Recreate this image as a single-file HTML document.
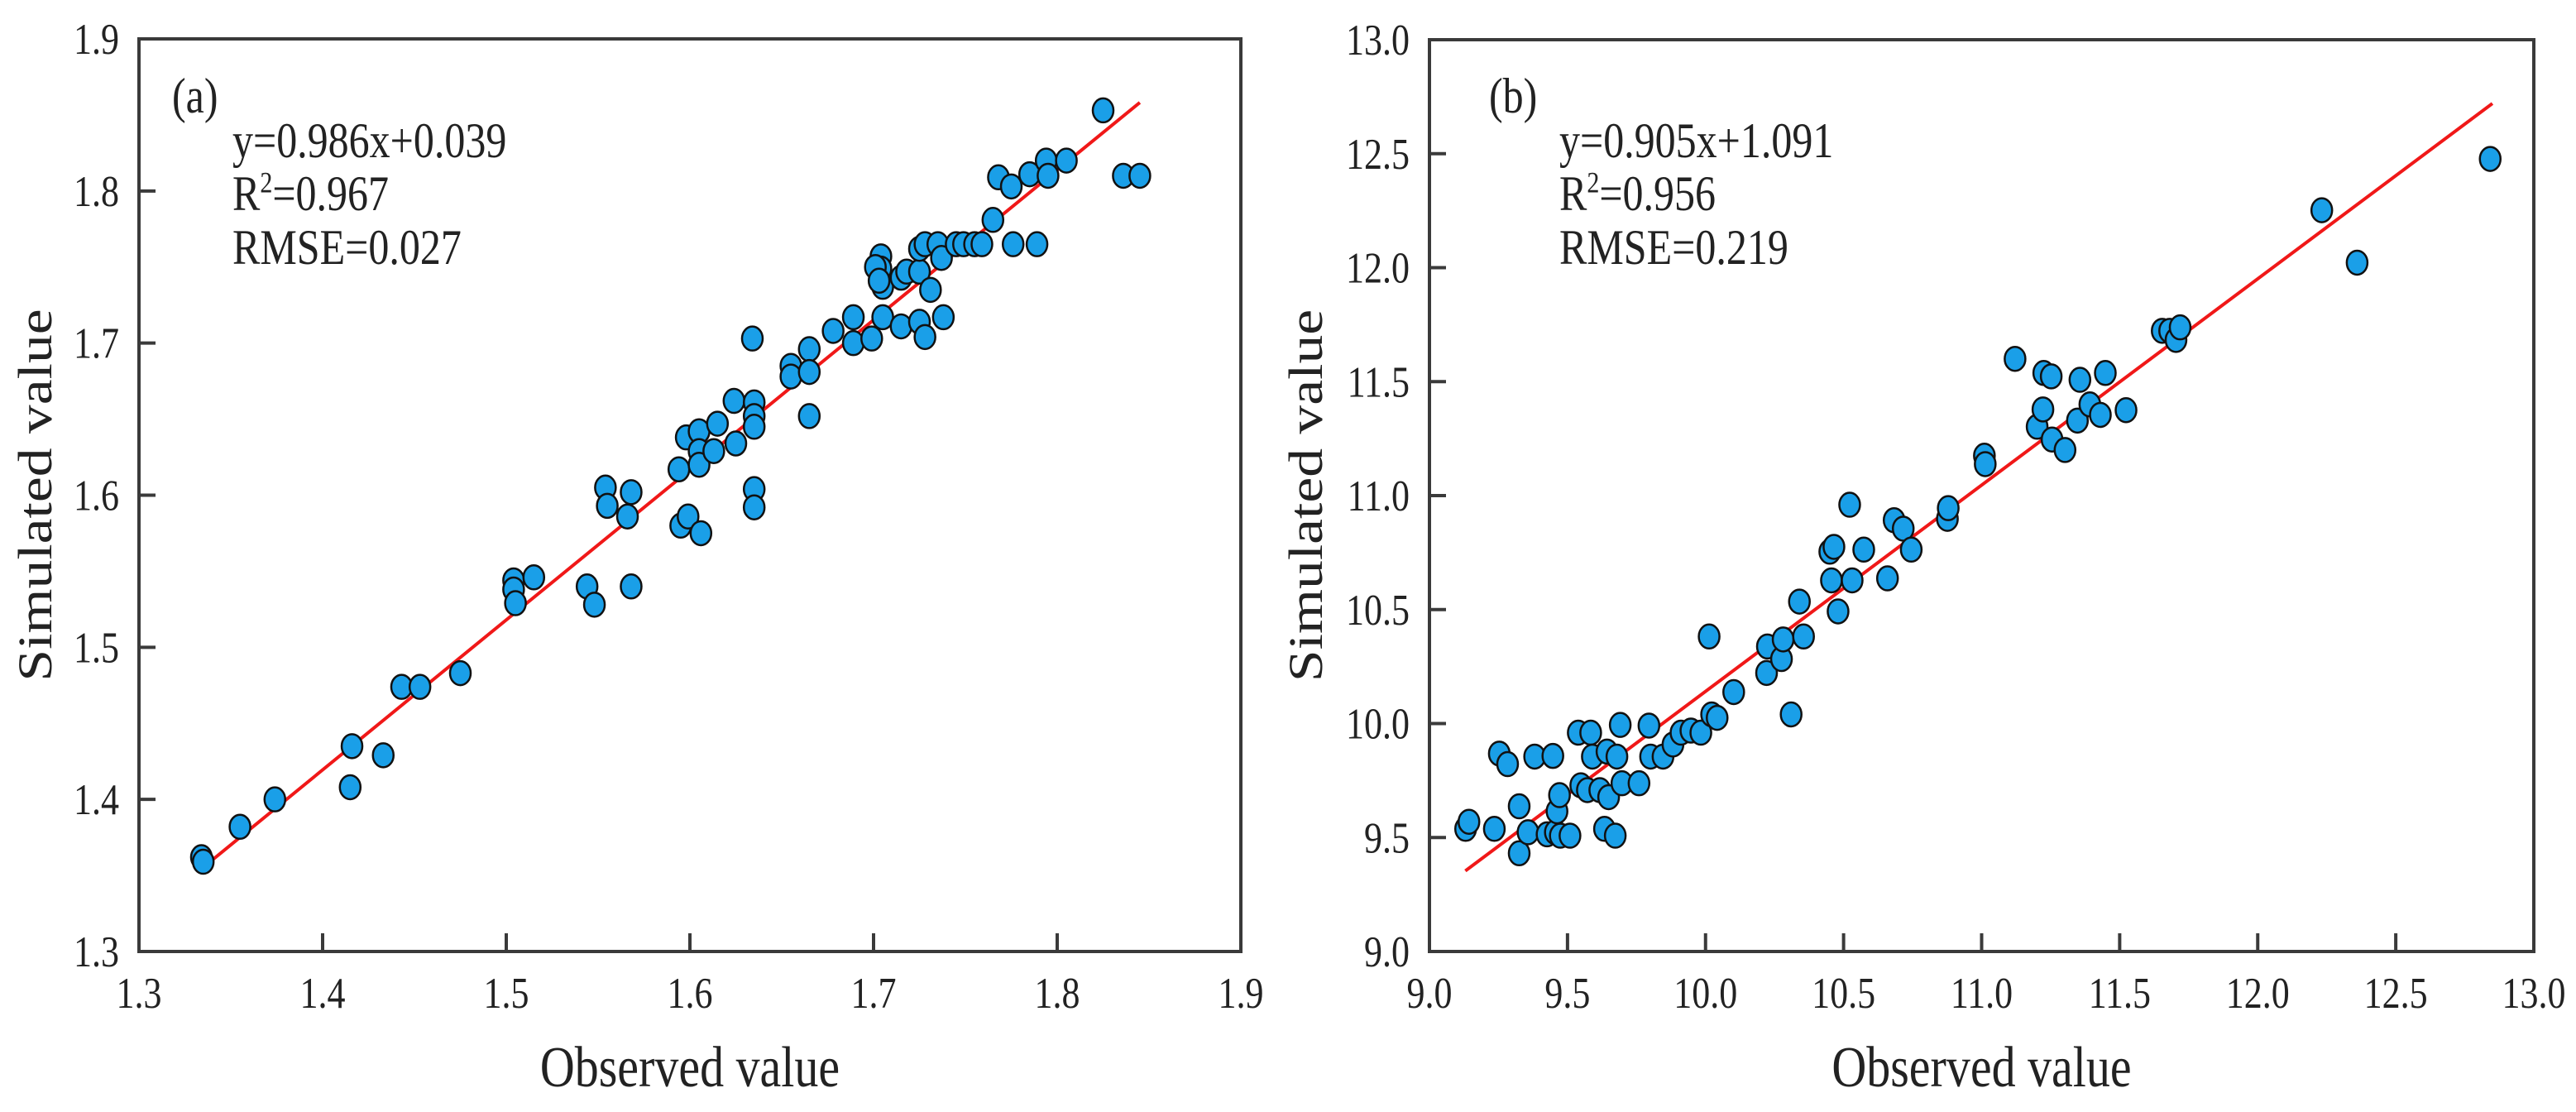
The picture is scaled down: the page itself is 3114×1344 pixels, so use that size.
<!DOCTYPE html>
<html><head><meta charset="utf-8"><style>
html,body{margin:0;padding:0;background:#fff;}
svg{display:block;font-family:"Liberation Serif",serif;}
</style></head><body>
<svg id="chart" width="3114" height="1344" viewBox="0 0 3114 1344" xmlns="http://www.w3.org/2000/svg">
<rect width="3114" height="1344" fill="#fff"/>
</svg>
<script>
// Panel (a) data
const aObserved = [1.334,1.335,1.355,1.374,1.415,1.416,1.433,1.443,1.453,1.475,1.504,1.504,1.505,1.515,1.544,1.548,1.554,1.555,1.566,1.568,1.568,1.594,1.595,1.598,1.599,1.605,1.605,1.605,1.606,1.613,1.615,1.624,1.625,1.634,1.635,1.635,1.635,1.635,1.635,1.655,1.655,1.665,1.665,1.665,1.678,1.689,1.689,1.699,1.704,1.704,1.705,1.705,1.715,1.715,1.718,1.725,1.725,1.725,1.728,1.728,1.731,1.735,1.737,1.738,1.745,1.749,1.755,1.759,1.765,1.768,1.775,1.776,1.785,1.789,1.794,1.795,1.805,1.825,1.836,1.845,1.701,1.703];
const aSimulated = [1.362,1.359,1.382,1.400,1.408,1.435,1.429,1.474,1.474,1.483,1.544,1.538,1.529,1.546,1.540,1.528,1.605,1.593,1.586,1.602,1.540,1.617,1.580,1.638,1.586,1.642,1.629,1.620,1.575,1.629,1.647,1.662,1.634,1.703,1.661,1.652,1.645,1.604,1.592,1.685,1.678,1.696,1.681,1.652,1.708,1.717,1.700,1.703,1.757,1.749,1.737,1.717,1.711,1.743,1.747,1.747,1.762,1.714,1.765,1.704,1.735,1.765,1.756,1.717,1.765,1.765,1.765,1.765,1.781,1.809,1.803,1.765,1.811,1.765,1.820,1.810,1.820,1.853,1.810,1.810,1.750,1.741];
const aTicks = ["1.3","1.4","1.5","1.6","1.7","1.8","1.9"];
const aFit = [0.986, 0.039];
const aFitRange = [1.335, 1.845];
// Panel (b) data
const bObserved = [9.131,9.143,9.235,9.253,9.283,9.325,9.325,9.357,9.381,9.426,9.447,9.456,9.462,9.471,9.474,9.509,9.539,9.548,9.572,9.584,9.590,9.617,9.634,9.643,9.649,9.673,9.679,9.691,9.697,9.759,9.795,9.801,9.846,9.882,9.911,9.947,9.983,10.013,10.022,10.042,10.102,10.221,10.224,10.275,10.281,10.310,10.340,10.355,10.450,10.456,10.465,10.480,10.522,10.531,10.573,10.659,10.683,10.716,10.745,10.876,10.879,11.010,11.013,11.121,11.201,11.222,11.225,11.252,11.255,11.302,11.347,11.356,11.392,11.430,11.448,11.523,11.654,11.681,11.704,11.719,12.232,12.360,12.842];
const bSimulated = [9.538,9.569,9.538,9.868,9.822,9.637,9.431,9.523,9.855,9.514,9.858,9.523,9.615,9.686,9.508,9.508,9.960,9.729,9.708,9.960,9.855,9.708,9.538,9.877,9.677,9.508,9.855,9.994,9.738,9.738,9.991,9.855,9.855,9.908,9.960,9.969,9.960,10.382,10.040,10.025,10.138,10.222,10.338,10.283,10.369,10.040,10.535,10.382,10.754,10.628,10.775,10.492,10.960,10.628,10.763,10.637,10.892,10.855,10.763,10.898,10.945,11.175,11.138,11.600,11.302,11.378,11.538,11.523,11.246,11.200,11.329,11.508,11.400,11.354,11.538,11.375,11.723,11.723,11.683,11.738,12.252,12.022,12.477];
const bTicks = ["9.0","9.5","10.0","10.5","11.0","11.5","12.0","12.5","13.0"];
const bFit = [0.905, 1.091];
const bFitRange = [9.13, 12.85];

const NS = "http://www.w3.org/2000/svg";
const svg = document.getElementById('chart');
const SY = 1.2;
function mk(tag, attrs, parent){
  const e = document.createElementNS(NS, tag);
  for (const k in attrs) e.setAttribute(k, attrs[k]);
  (parent||svg).appendChild(e);
  return e;
}
function txt(parent, x, y, size, anchor, rot){
  const t = mk('text', {x:0,y:0,'font-size':size,'text-anchor':anchor,fill:'#222',
    transform:'translate('+x+' '+y+')'+(rot?' rotate(-90) scale(1.2 1)':' scale(1 '+SY+')')}, parent);
  return t;
}
function panel(cfg){
  const g = mk('g', {});
  
  
  const L=cfg.left,R=cfg.right,T=cfg.top,B=cfg.bottom;
  const xs = v => L + (v-cfg.min)/(cfg.max-cfg.min)*(R-L);
  const ys = v => B - (v-cfg.min)/(cfg.max-cfg.min)*(B-T);
  const frame = mk('rect', {x:L,y:T,width:R-L,height:B-T,fill:'none',stroke:'#3a3a3a','stroke-width':4}, g);
  
  
  cfg.ticks.forEach((t) => {
    const v = parseFloat(t);
    const x = xs(v), y = ys(v);
    const tx = mk('line', {x1:x,x2:x,y1:B,y2:B-22,stroke:'#3a3a3a','stroke-width':4}, g);
    
    
    const ty = mk('line', {x1:L,x2:L+20,y1:y,y2:y,stroke:'#3a3a3a','stroke-width':4}, g);
    
    
    const lx = txt(g, x, B+68, 44, 'middle');
    lx.textContent = t;
    
    
    const ly = txt(g, L-24, y+18, 44, 'end');
    ly.textContent = t;
    
    
  });
  const fl = mk('line', {x1:xs(cfg.range[0]),y1:ys(cfg.fit[0]*cfg.range[0]+cfg.fit[1]),x2:xs(cfg.range[1]),y2:ys(cfg.fit[0]*cfg.range[1]+cfg.fit[1]),stroke:'#f01818','stroke-width':4}, g);
  
  
  cfg.xd.forEach((xv,i) => {
    const c = mk('ellipse', {cx:xs(xv),cy:ys(cfg.yd[i]),rx:12.5,ry:14.5,fill:'#1a9fe8',stroke:'#111','stroke-width':2.5}, g);
    
    
  });
  const lab = txt(g, cfg.labX, 136, 50, 'start');
  lab.textContent = cfg.label;
  
  
  const eq = txt(g, cfg.eqX, 190, 50, 'start');
  eq.textContent = cfg.eq;
  
  
  const r2 = txt(g, cfg.eqX, 254, 50, 'start');
  
  
  const t1 = mk('tspan', {}, r2); t1.textContent = 'R';
  const t2 = mk('tspan', {'font-size':30,dy:-18}, r2); t2.textContent = '2';
  const t3 = mk('tspan', {dy:18}, r2); t3.textContent = cfg.r2;
  const rm = txt(g, cfg.eqX, 319, 50, 'start');
  rm.textContent = cfg.rmse;
  
  
  const xt = txt(g, (L+R)/2, 1313, 58, 'middle');
  xt.textContent = 'Observed value';
  
  
  const cy = (T+B)/2;
  const yt = txt(g, cfg.ytX, cy, 58, 'middle', true);
  yt.textContent = 'Simulated value';
  
  
}
panel({name:'panel-a',left:168,right:1500,top:47,bottom:1150,min:1.3,max:1.9,ticks:aTicks,xd:aObserved,yd:aSimulated,fit:aFit,range:aFitRange,label:'(a)',labX:208,eqX:281,eq:'y=0.986x+0.039',r2:'=0.967',rmse:'RMSE=0.027',ytX:62});
panel({name:'panel-b',left:1728,right:3063,top:48,bottom:1150,min:9,max:13,ticks:bTicks,xd:bObserved,yd:bSimulated,fit:bFit,range:bFitRange,label:'(b)',labX:1800,eqX:1885,eq:'y=0.905x+1.091',r2:'=0.956',rmse:'RMSE=0.219',ytX:1598});
</script>
</body></html>
